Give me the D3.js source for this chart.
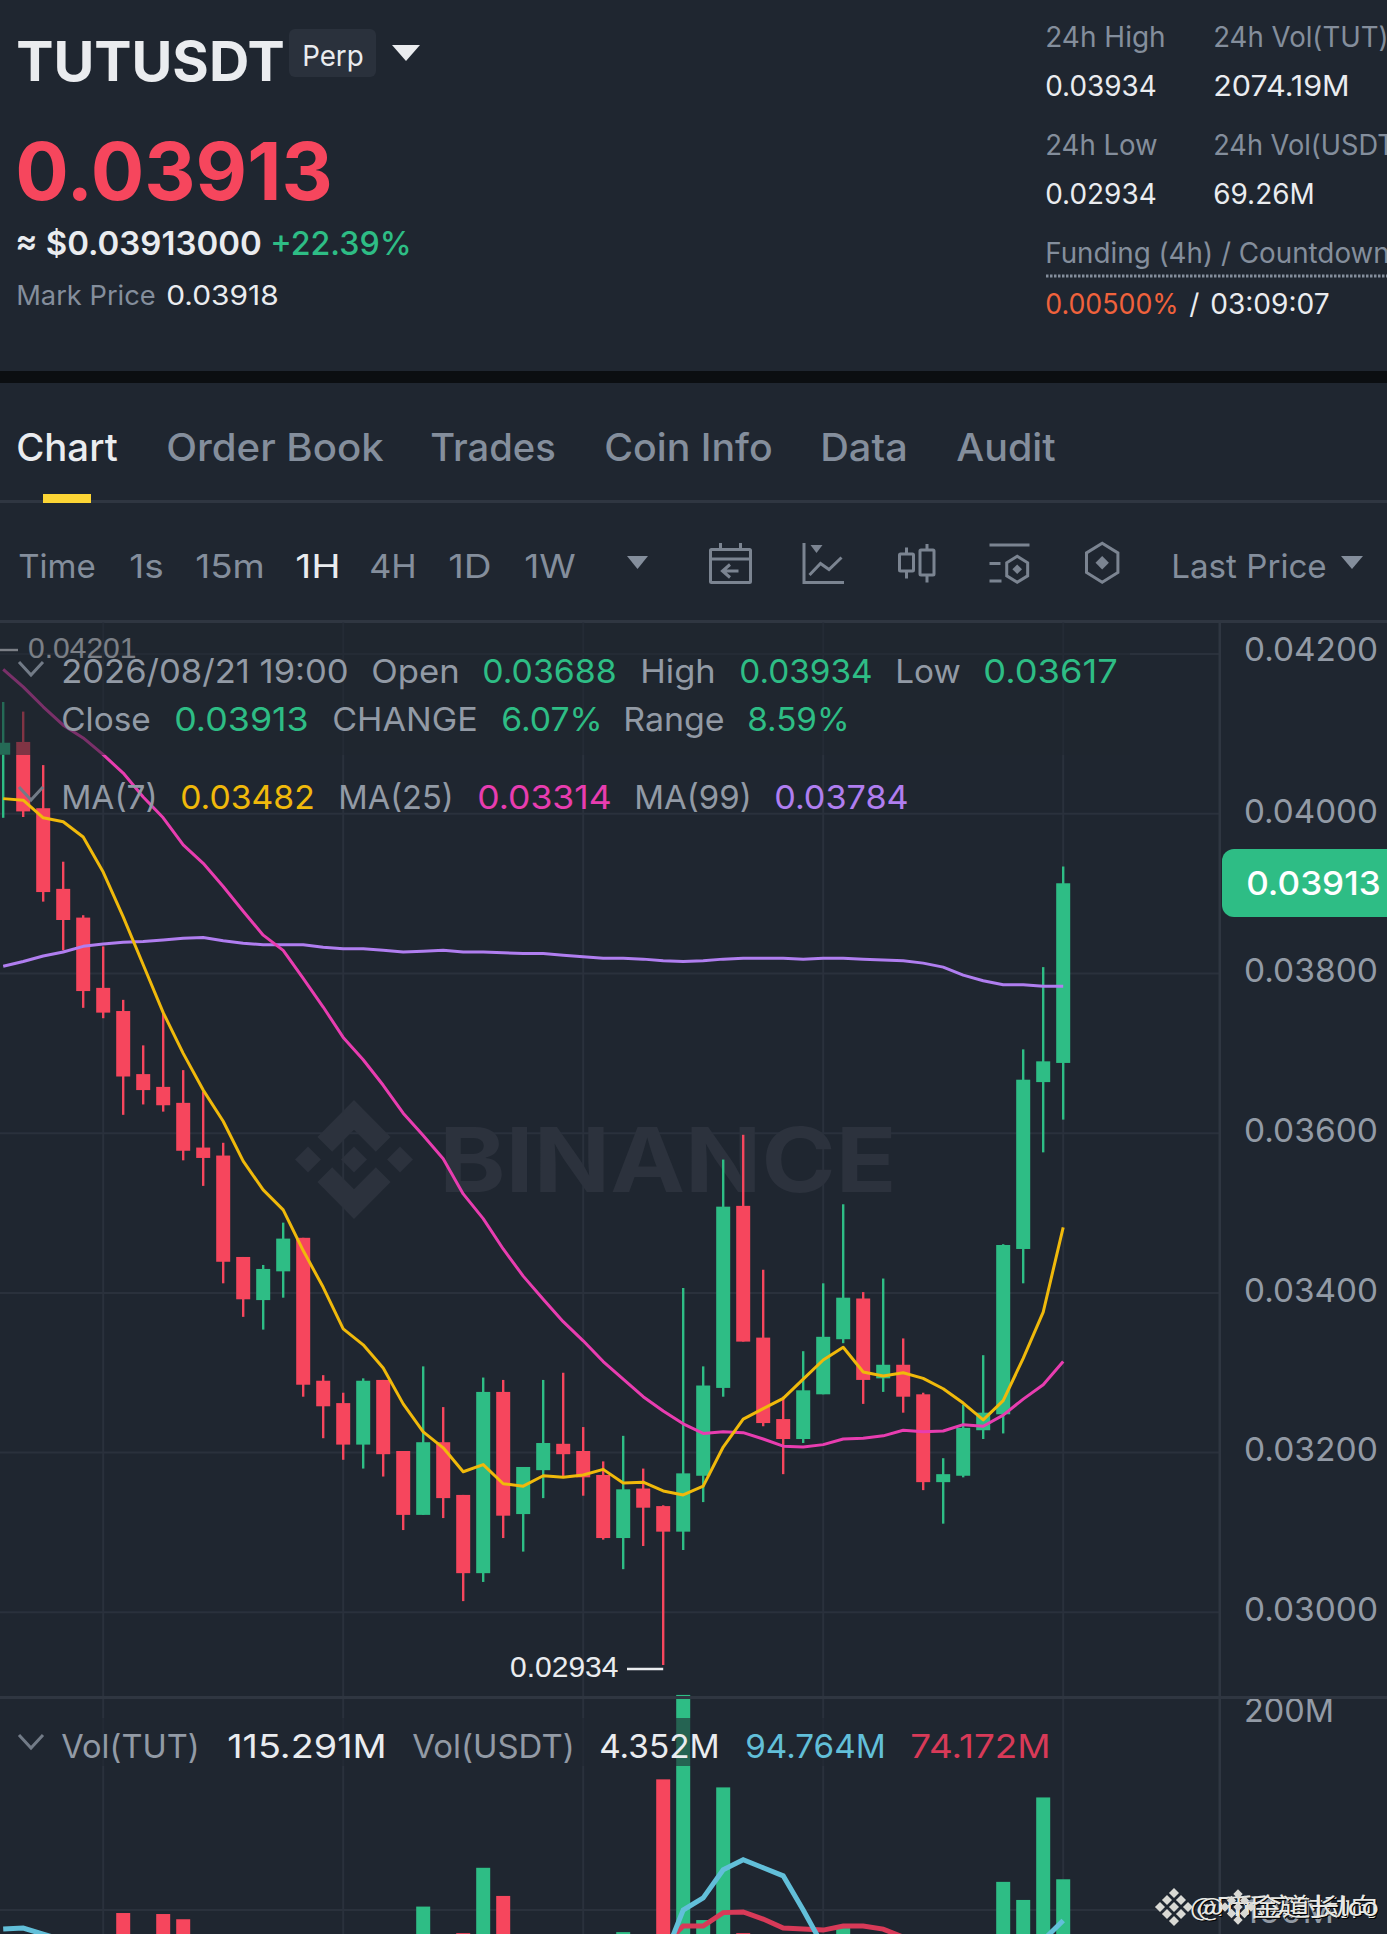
<!DOCTYPE html>
<html><head><meta charset="utf-8">
<script src="https://cdnjs.cloudflare.com/ajax/libs/d3/7.8.5/d3.min.js"></script>
<style>html,body{margin:0;padding:0;background:#1f2630;overflow:hidden}svg{display:block}</style>
</head><body><div id="c"></div>
<script>
const open_=[.04074,.04090,.04007,.03906,.03870,.03782,.03753,.03674,.03658,.03638,.03582,.03572,.03445,.03391,.03427,.03469,.03290,.03262,.03210,.03291,.03202,.03122,.03213,.03147,.03049,.03276,.03123,.03178,.03211,.03202,.03172,.03093,.03155,.03133,.03101,.03171,.03281,.03509,.03344,.03242,.03217,.03273,.03342,.03393,.03293,.03310,.03273,.03163,.03171,.03228,.03248,.03455,.03664,.03688];
const close_=[.04089,.04003,.03902,.03867,.03778,.03751,.03671,.03654,.03635,.03578,.03569,.03439,.03392,.03430,.03468,.03285,.03258,.03210,.03290,.03198,.03122,.03213,.03143,.03049,.03276,.03121,.03182,.03212,.03198,.03169,.03093,.03154,.03131,.03101,.03174,.03284,.03508,.03339,.03237,.03217,.03278,.03345,.03394,.03291,.03310,.03270,.03163,.03173,.03231,.03250,.03460,.03667,.03690,.03913];
const high_=[.04140,.04128,.04061,.03940,.03873,.03834,.03767,.03710,.03751,.03679,.03652,.03588,.03445,.03435,.03488,.03469,.03297,.03275,.03293,.03291,.03202,.03308,.03257,.03147,.03294,.03291,.03182,.03291,.03300,.03232,.03189,.03221,.03180,.03134,.03406,.03308,.03567,.03598,.03429,.03270,.03327,.03412,.03511,.03401,.03418,.03343,.03275,.03193,.03260,.03322,.03461,.03705,.03808,.03934];
const low_=[.03995,.03996,.03890,.03829,.03757,.03744,.03623,.03636,.03627,.03566,.03534,.03412,.03370,.03354,.03394,.03270,.03218,.03191,.03180,.03170,.03103,.03122,.03118,.03014,.03038,.03093,.03076,.03143,.03169,.03146,.03091,.03054,.03083,.02934,.03078,.03138,.03270,.03339,.03233,.03173,.03212,.03273,.03337,.03261,.03276,.03250,.03153,.03111,.03169,.03217,.03224,.03412,.03576,.03617];
const ma7=[.04019,.04017,.03995,.03990,.03971,.03927,.03871,.03811,.03751,.03700,.03654,.03615,.03565,.03529,.03504,.03453,.03407,.03355,.03335,.03306,.03261,.03226,.03206,.03176,.03185,.03161,.03158,.03171,.03169,.03172,.03179,.03162,.03163,.03152,.03147,.03158,.03207,.03242,.03255,.03268,.03292,.03316,.03332,.03301,.03296,.03300,.03293,.03280,.03262,.03241,.03265,.03318,.03376,.03482];
const ma25=[.04181,.04159,.04134,.04111,.04095,.04074,.04051,.04021,.03995,.03961,.03938,.03909,.03878,.03848,.03829,.03794,.03758,.03720,.03692,.03660,.03625,.03597,.03568,.03524,.03493,.03455,.03421,.03392,.03364,.03340,.03314,.03292,.03270,.03252,.03236,.03224,.03226,.03225,.03217,.03208,.03207,.03210,.03217,.03218,.03221,.03228,.03226,.03227,.03235,.03233,.03247,.03267,.03285,.03314];
const ma99=[.03809,.03815,.03822,.03827,.03834,.03837,.03839,.03840,.03842,.03844,.03845,.03841,.03838,.03836,.03836,.03836,.03833,.03831,.03831,.03829,.03827,.03828,.03829,.03827,.03827,.03826,.03825,.03825,.03823,.03821,.03819,.03819,.03818,.03816,.03815,.03816,.03818,.03819,.03819,.03819,.03818,.03819,.03819,.03818,.03817,.03816,.03813,.03808,.03798,.03791,.03786,.03786,.03784,.03784];
const priceTicks=[.042,.04,.038,.036,.034,.032,.03];
const timeTickIdx=[5,17,29,41,53];
// volumes in millions; bars too short to enter the photographed area are null
const vol=[null,null,null,null,null,null,98.5,null,98,95.4,null,null,null,null,null,null,null,null,null,null,null,101.7,null,88.5,121,107,null,null,null,null,null,89,null,165,207,95,161,88.5,null,null,null,null,91,null,null,null,null,null,null,null,114,105,156,115.291];
const volMa5=[90.5,91,88,85,null,null,null,null,null,null,null,null,null,null,null,null,null,null,null,null,null,null,null,null,null,null,null,null,null,null,null,null,null,75,100,106,120,125,121,117,100,82,null,null,null,null,null,null,null,null,null,null,85,94.764];
const volMa10=[null,null,null,null,null,null,null,null,null,null,null,null,null,null,null,null,null,null,null,null,null,null,null,null,null,null,null,null,null,null,null,null,null,82,92,92,98.7,99,95.5,91,90.5,90,92,92,90.5,86.5,null,null,null,null,null,null,null,null];
const volTicks=[200,100];

const W=1387,H=1934,BG='#1f2630',GREEN='#2ebd85',RED='#f6465d',GRAY='#848e9c',WHITE='#eaecef',GRID='#2a313c',LINE='#2f3641';
const FONT='Inter, "Noto Sans", sans-serif';
const svg=d3.select('#c').append('svg').attr('width',W).attr('height',H).style('font-family',FONT);
const x=d3.scaleLinear().domain([0,53]).range([3.2,1063.2]);
const y=d3.scaleLinear().domain([.04,.03]).range([813.8,1612.3]);
const yv=d3.scaleLinear().domain([100,200]).range([1910,1709]);
function t(px,py,s,size,color,opt={}){
  const e=svg.append('text').attr('x',opt.font?px:px-.8).attr('y',opt.font?py:py+1).text(s).attr('font-size',size).attr('fill',color)
    .attr('font-weight',opt.w||400);
  if(opt.len){e.attr('textLength',opt.len+1.5).attr('lengthAdjust','spacingAndGlyphs');}
  if(opt.font)e.style('font-family',opt.font);
  return e;
}
svg.append('rect').attr('width',W).attr('height',H).attr('fill',BG);
// header
svg.append('rect').attr('y',371).attr('width',W).attr('height',12).attr('fill','#0b0e11');
t(17,80,'TUTUSDT',55,WHITE,{w:700,len:267});
svg.append('rect').attr('x',289).attr('y',29).attr('width',87).attr('height',48).attr('rx',6).attr('fill','#2a313c');
t(303,65,'Perp',29,WHITE,{len:60});
svg.append('path').attr('d','M392 45H420L406 61Z').attr('fill',WHITE);
t(16,199,'0.03913',80,RED,{w:700,len:316});
t(16,254,'≈ $0.03913000',33,WHITE,{w:600,len:245});
t(271,254,'+22.39%',33,GREEN,{w:500,len:140});
t(17,304,'Mark Price',27,GRAY,{len:138});
t(167,304,'0.03918',27,WHITE,{len:111});
t(1046,46,'24h High',28,GRAY,{len:119});
t(1214,46,'24h Vol(TUT)',28,GRAY,{len:174});
t(1046,95,'0.03934',28,WHITE,{len:110});
t(1214,95,'2074.19M',28,WHITE,{len:135});
t(1046,154,'24h Low',28,GRAY,{len:111});
t(1214,154,'24h Vol(USDT)',28,GRAY,{len:190});
t(1046,203,'0.02934',28,WHITE,{len:110});
t(1214,203,'69.26M',28,WHITE,{len:100});
t(1046,262,'Funding (4h) / Countdown',28,GRAY,{len:343});
svg.append('line').attr('x1',1046).attr('x2',W).attr('y1',276).attr('y2',276).attr('stroke',GRAY).attr('stroke-width',3).attr('stroke-dasharray','2.5 1.5');
t(1046,313,'0.00500%',28,'#f0623c',{len:132});
t(1190,313,'/',28,WHITE);
t(1211,313,'03:09:07',28,WHITE,{len:118});
// tabs
[['Chart',17,100,WHITE,500],['Order Book',167,216,GRAY,500],['Trades',431,124,GRAY,500],['Coin Info',605,167,GRAY,500],['Data',821,86,GRAY,500],['Audit',957,98,GRAY,500]]
 .forEach(d=>t(d[1],460,d[0],38,d[3],{w:d[4],len:d[2]}));
svg.append('rect').attr('y',500).attr('width',W).attr('height',3).attr('fill',LINE);
svg.append('rect').attr('x',43).attr('y',494).attr('width',48).attr('height',9).attr('fill','#fcd535');
// interval row
[['Time',19,76,GRAY],['1s',130,33,GRAY],['15m',196,68,GRAY],['1H',296,44,WHITE],['4H',370,46,GRAY],['1D',449,42,GRAY],['1W',525,50,GRAY]]
 .forEach(d=>t(d[1],577,d[0],33,d[3],{len:d[2]}));
t(1172,577,'Last Price',33,GRAY,{len:154});
svg.append('path').attr('d','M627 556H648L637.5 569Z').attr('fill',GRAY);
svg.append('path').attr('d','M1341 556H1363L1352 569Z').attr('fill',GRAY);
const ic=svg.append('g').attr('fill','none').attr('stroke','#7b8491').attr('stroke-width',3);
ic.append('rect').attr('x',710.5).attr('y',549.5).attr('width',40).attr('height',33).attr('rx',1);
ic.append('path').attr('d','M710.5 559H750.5M720.5 543V549M740.5 543V549M738.5 571H722.5M730 564.5L722.5 571L730 577.5');
ic.append('path').attr('d','M804 543V582.5H844M809.5 575L820.5 563.5L829 569.5L841.5 557.5');
svg.append('path').attr('d','M810.5 545H822.5L816.5 553Z').attr('fill','#7b8491');
ic.append('rect').attr('x',899.5).attr('y',554).attr('width',14).attr('height',17).attr('rx',1);
ic.append('rect').attr('x',920).attr('y',550).attr('width',14).attr('height',25).attr('rx',1);
ic.append('path').attr('d','M906.5 547.5V554M906.5 571V578.5M927 544V550M927 575V582.5');
ic.append('path').attr('d','M989.5 545H1029.5M989.5 563.5H1000.5M989.5 581H1001.5');
const hex=(cx,cy,r)=>d3.range(6).map(k=>{const a=Math.PI/3*k-Math.PI/2;return [cx+Math.cos(a)*r*.93,cy+Math.sin(a)*r].join(',')}).join(' ');
ic.append('polygon').attr('points',hex(1017.2,569.3,13));
ic.append('polygon').attr('points',hex(1102.2,562.7,19.5));
svg.append('path').attr('d','M1017.2 564.5l4.8 4.8l-4.8 4.8l-4.8-4.8Z').attr('fill','#7b8491');
svg.append('path').attr('d','M1102.2 556l6.7 6.7l-6.7 6.7l-6.7-6.7Z').attr('fill','#7b8491');
// chart frame
const f=svg.append('g');
f.append('rect').attr('y',620).attr('width',W).attr('height',3).attr('fill',LINE);
f.selectAll('.vg').data(timeTickIdx).join('line').attr('x1',d=>x(d)).attr('x2',d=>x(d)).attr('y1',622).attr('y2',H).attr('stroke',GRID).attr('stroke-width',2);
f.selectAll('.hg').data(priceTicks).join('line').attr('x1',0).attr('x2',1219).attr('y1',d=>y(d)).attr('y2',d=>y(d)).attr('stroke',GRID).attr('stroke-width',2);
f.selectAll('.hv').data([100]).join('line').attr('x1',0).attr('x2',1219).attr('y1',d=>yv(d)).attr('y2',d=>yv(d)).attr('stroke',GRID).attr('stroke-width',2);
// binance watermark
const wm=svg.append('g').attr('transform','translate(354,1159.5) scale(59,59.5)').attr('fill','#2c323d');
[[[0,-.22],[.22,0],[0,.22],[-.22,0]],[[-.78,-.22],[-.56,0],[-.78,.22],[-1,0]],[[.78,-.22],[1,0],[.78,.22],[.56,0]],
 [[0,-1],[.62,-.38],[.37,-.13],[0,-.5],[-.37,-.13],[-.62,-.38]],[[0,1],[.62,.38],[.37,.13],[0,.5],[-.37,.13],[-.62,.38]]]
 .forEach(p=>wm.append('polygon').attr('points',p.join(' ')));
t(440,1191,'BINANCE',90,'#2c323d',{w:700,len:456});
// candles
const idx=d3.range(open_.length);
const cs=svg.append('g');
cs.selectAll('line').data(idx).join('line').attr('x1',i=>x(i)).attr('x2',i=>x(i)).attr('y1',i=>y(high_[i])).attr('y2',i=>y(low_[i]))
  .attr('stroke',i=>close_[i]>=open_[i]?GREEN:RED).attr('stroke-width',2.4);
cs.selectAll('rect').data(idx).join('rect').attr('x',i=>x(i)-7).attr('width',14)
  .attr('y',i=>y(Math.max(open_[i],close_[i]))).attr('height',i=>Math.max(2,Math.abs(y(open_[i])-y(close_[i]))))
  .attr('fill',i=>close_[i]>=open_[i]?GREEN:RED);
const ln=d3.line().x((d,i)=>x(i)).y(d=>y(d));
[[ma99,'#b07ef0'],[ma25,'#e83db0'],[ma7,'#f0b90b']].forEach(([a,c])=>svg.append('path').datum(a).attr('d',ln).attr('fill','none').attr('stroke',c).attr('stroke-width',3).attr('stroke-linejoin','round'));
// extreme labels
const mk='"Liberation Sans", Arial, sans-serif';
svg.append('line').attr('x1',0).attr('x2',18).attr('y1',650).attr('y2',650).attr('stroke',WHITE).attr('stroke-width',2.4);
t(28,658,'0.04201',30,WHITE,{font:mk});
svg.append('line').attr('x1',627).attr('x2',x(33)).attr('y1',y(.02934)+4).attr('y2',y(.02934)+4).attr('stroke',WHITE).attr('stroke-width',2.4);
t(510,1677,'0.02934',30,WHITE,{font:mk});
// volume pane
const vi=idx.filter(i=>vol[i]!=null);
svg.append('g').selectAll('rect').data(vi).join('rect').attr('x',i=>x(i)-7).attr('width',14).attr('y',i=>yv(vol[i])).attr('height',i=>H-yv(vol[i]))
  .attr('fill',i=>close_[i]>=open_[i]?GREEN:RED);
const vl=d3.line().defined(d=>d!=null).x((d,i)=>x(i)).y(d=>yv(d));
svg.append('path').datum(volMa10).attr('d',vl).attr('fill','none').attr('stroke','#d83a58').attr('stroke-width',5);
svg.append('path').datum(volMa5).attr('d',vl).attr('fill','none').attr('stroke','#62bfd9').attr('stroke-width',5);
// dim bands under the legends
svg.append('rect').attr('y',623).attr('width',1130).attr('height',132).attr('fill',BG).attr('opacity',.55);
svg.append('rect').attr('y',1718).attr('width',1050).attr('height',48).attr('fill',BG).attr('opacity',.6);
// legends
const LG='#929aa5';
[['2026/08/21 19:00',62,286,682,LG],['Open',372,87,682,LG],['0.03688',483,133,682,GREEN],['High',641,74,682,LG],['0.03934',740,132,682,GREEN],['Low',896,64,682,LG],['0.03617',984,133,682,GREEN],
 ['Close',62,88,730,LG],['0.03913',175,133,730,GREEN],['CHANGE',333,144,730,LG],['6.07%',502,100,730,GREEN],['Range',624,100,730,LG],['8.59%',748,101,730,GREEN],
 ['MA(7)',62,95,808,LG],['0.03482',181,133,808,'#f0b90b'],['MA(25)',339,114,808,LG],['0.03314',478,133,808,'#e83db0'],['MA(99)',635,116,808,LG],['0.03784',775,133,808,'#b07ef0']]
 .forEach(d=>t(d[1],d[3],d[0],33,d[4],{len:d[2]}));
const chev=(yy)=>svg.append('path').attr('d',`M19 ${yy}L31 ${yy+13}L43 ${yy}`).attr('fill','none').attr('stroke','#727b87').attr('stroke-width',3);
chev(662);chev(787);chev(1735);
[['Vol(TUT)',62,137,LG],['115.291M',228,158,WHITE],['Vol(USDT)',413,161,LG],['4.352M',600,119,WHITE],['94.764M',746,139,'#62bfd9'],['74.172M',911,139,'#d83a58']]
 .forEach(d=>t(d[1],1757,d[0],33,d[3],{len:d[2]}));
// price axis
const ax=svg.append('g').attr('transform','translate(1232,0)').call(d3.axisRight(y).tickValues(priceTicks).tickFormat(d3.format('.5f')).tickSize(0).tickPadding(12));
ax.select('.domain').remove();
ax.selectAll('text').attr('font-size',33).attr('fill',LG).style('font-family',FONT).attr('textLength',134).attr('lengthAdjust','spacingAndGlyphs').attr('dy','0.25em');
ax.selectAll('.tick').filter(d=>d===.042).select('text').attr('dy','0.2em');
svg.append('path').attr('d',`M${W} 849H1234a12 12 0 0 0 -12 12V905a12 12 0 0 0 12 12H${W}Z`).attr('fill',GREEN);
t(1247,894,'0.03913',33,'#fff',{w:500,len:133});
const av=svg.append('g').attr('transform','translate(1232,0)').call(d3.axisRight(yv).tickValues(volTicks).tickFormat(d=>d+'M').tickSize(0).tickPadding(12));
av.select('.domain').remove();
av.selectAll('text').attr('font-size',33).attr('fill',LG).style('font-family',FONT).attr('textLength',90).attr('lengthAdjust','spacingAndGlyphs').attr('dy','0.38em');
// pane divider and axis rule sit over the clipped 200M label
svg.append('rect').attr('y',1680).attr('x',1221).attr('width',W-1221).attr('height',16).attr('fill',BG);
svg.append('rect').attr('y',1696).attr('width',W).attr('height',3).attr('fill',LINE);
svg.append('rect').attr('x',1218.5).attr('y',622).attr('width',2.5).attr('height',H-622).attr('fill',LINE);
// reposter mark
const rp=svg.append('g').style('font-family','"Noto Sans CJK SC", sans-serif');
const logo=(cx,cy,s)=>{const g=svg.append('g').attr('transform',`translate(${cx},${cy}) scale(${s})`).attr('fill','#d9d9d4');
 [[0,-1,.36],[-.5,-.5,.36],[.5,-.5,.36],[-1,0,.36],[1,0,.36],[0,0,.36],[-.5,.5,.36],[.5,.5,.36],[0,1,.36]].forEach(d=>g.append('path').attr('d',`M${d[0]} ${d[1]-d[2]}l${d[2]} ${d[2]}l-${d[2]} ${d[2]}l-${d[2]} -${d[2]}Z`));};
logo(1174,1907,14);logo(1238,1907,13);
const wtxt=(px,s,len)=>{rp.append('text').attr('x',px+1).attr('y',1917).text(s).attr('font-size',25).attr('fill','#000').attr('textLength',len).attr('lengthAdjust','spacingAndGlyphs');
 rp.append('text').attr('x',px).attr('y',1916).text(s).attr('font-size',25).attr('fill','#e8e8e4').attr('textLength',len).attr('lengthAdjust','spacingAndGlyphs');};
wtxt(1190,'@Pi币实时动向',188);wtxt(1197,'@币金道长lco',182);
</script></body></html>
